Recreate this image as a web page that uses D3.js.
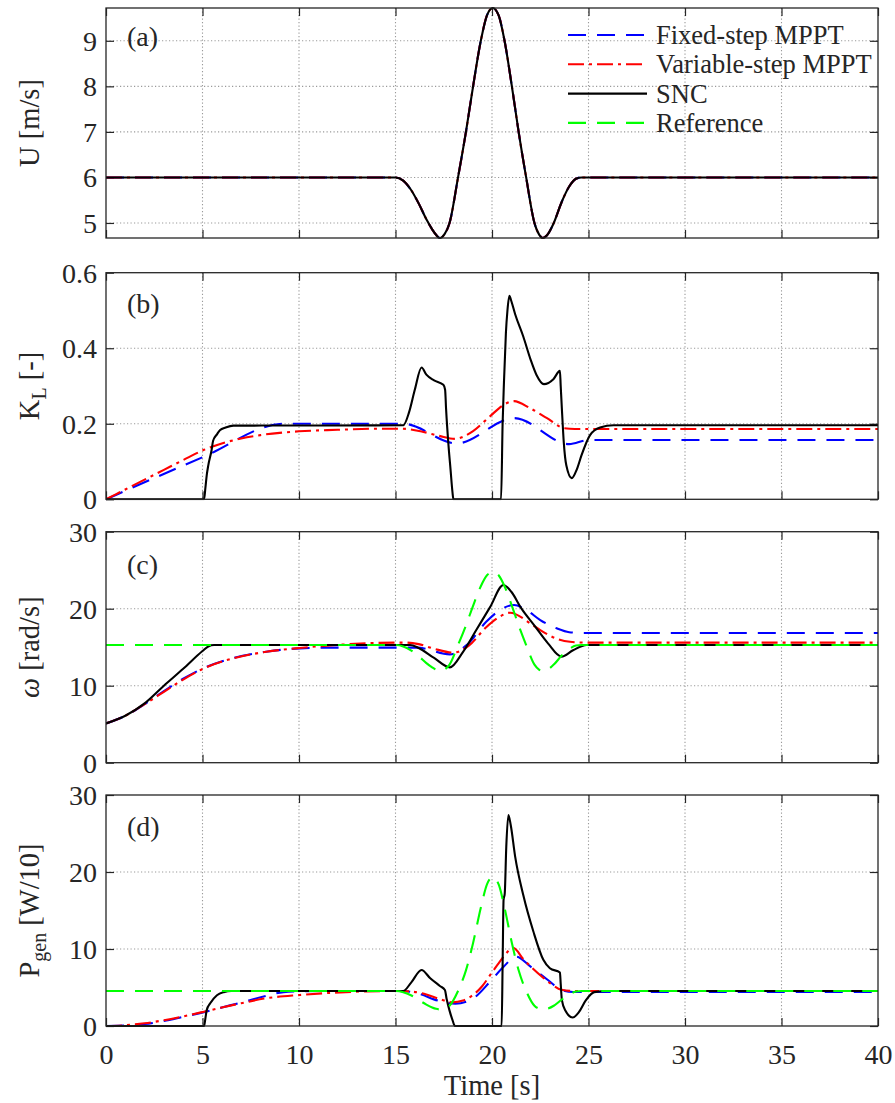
<!DOCTYPE html>
<html>
<head>
<meta charset="utf-8">
<script src="https://cdn.jsdelivr.net/npm/d3@7"></script>
<style>
  body { margin: 0; background: #ffffff; }
  svg text { font-family: "Liberation Serif", "Times New Roman", serif; fill: #262626; }
</style>
</head>
<body>
<svg id="chart" width="895" height="1103"></svg>
<script>
// ---- tick labels and legend names ----
const timeTicks  = [0, 5, 10, 15, 20, 25, 30, 35, 40];
const windTicks  = [5, 6, 7, 8, 9];
const klTicks    = [0, 0.2, 0.4, 0.6];
const omegaTicks = [0, 10, 20, 30];
const powerTicks = [0, 10, 20, 30];
const seriesNames = ["Fixed-step MPPT", "Variable-step MPPT", "SNC", "Reference"];

// ---- wind gust and the matching references [s] ----
const tWind = [0, 15.0, 15.4, 15.8, 16.2, 16.6, 16.9, 17.1, 17.3, 17.55, 17.8, 18.24, 18.65, 19.02, 19.42, 19.75, 20.04, 20.35, 20.65, 21.03, 21.38, 21.77, 22.2, 22.45, 22.63, 22.85, 23.2, 23.6, 24.0, 24.35, 24.65, 25.0, 40];
const windSpeed = [6, 6, 5.93, 5.73, 5.43, 5.08, 4.86, 4.74, 4.67, 4.76, 5.0, 6.0, 7.0, 8.0, 9.0, 9.57, 9.72, 9.55, 9.0, 8.0, 7.0, 6.0, 5.0, 4.74, 4.67, 4.73, 5.0, 5.45, 5.8, 5.97, 6.0, 6.0, 6.0];
const omegaRef = [15.28, 15.28, 15.10, 14.59, 13.83, 12.94, 12.38, 12.07, 11.89, 12.12, 12.74, 15.28, 17.83, 20.38, 22.92, 24.37, 24.76, 24.32, 22.92, 20.38, 17.83, 15.28, 12.74, 12.07, 11.89, 12.05, 12.74, 13.88, 14.77, 15.21, 15.28, 15.28, 15.28];
const powerRef = [4.55, 4.55, 4.39, 3.99, 3.38, 2.78, 2.41, 2.23, 2.15, 2.27, 2.63, 4.55, 7.23, 10.78, 15.36, 18.46, 19.34, 18.35, 15.36, 10.78, 7.23, 4.55, 2.63, 2.24, 2.15, 2.23, 2.63, 3.41, 4.11, 4.48, 4.55, 4.55, 4.55];

// ---- load gain K_L ----
const tKlFixed = [0, 5.08, 9.2, 15.4, 18.17, 21.15, 24.0, 25.0, 40];
const klFixed  = [0, 0.113, 0.200, 0.200, 0.148, 0.215, 0.146, 0.157, 0.157];
const tKlVar = [0, 1, 2, 3, 4, 5.08, 6, 7, 8, 9, 10, 12, 14, 15.3, 16.4, 17.27, 18.08, 19.0, 19.9, 20.6, 21.14, 21.98, 22.85, 23.75, 24.3, 40];
const klVar  = [0, 0.026, 0.052, 0.078, 0.104, 0.131, 0.148, 0.161, 0.170, 0.176, 0.180, 0.184, 0.187, 0.187, 0.179, 0.168, 0.160, 0.180, 0.220, 0.250, 0.260, 0.241, 0.215, 0.188, 0.186, 0.186];
const tKlSnc = [0, 5.08, 5.15, 5.22, 5.3, 5.47, 5.55, 5.75, 5.9, 6.2, 6.6, 15.4, 15.7, 16.0, 16.35, 16.6, 17.0, 17.48, 17.57, 17.62, 17.75, 17.85, 17.95, 18.0, 20.47, 20.55, 20.62, 20.72, 20.8, 20.9, 21.0, 21.2, 21.62, 22.0, 22.3, 22.69, 23.18, 23.52, 23.56, 23.62, 23.72, 23.85, 24.13, 24.4, 24.64, 25.08, 25.6, 26.3, 40];
const klSnc  = [0, 0, 0.03, 0.064, 0.09, 0.13, 0.155, 0.172, 0.183, 0.19, 0.195, 0.196, 0.23, 0.29, 0.349, 0.33, 0.315, 0.303, 0.29, 0.24, 0.14, 0.08, 0.02, 0, 0, 0.2, 0.31, 0.44, 0.50, 0.539, 0.525, 0.49, 0.431, 0.37, 0.33, 0.305, 0.318, 0.34, 0.30, 0.24, 0.15, 0.09, 0.056, 0.08, 0.117, 0.17, 0.19, 0.196, 0.196];

// ---- rotor speed [rad/s] ----
const tOmFixed = [0, 1, 2, 3, 4, 5.08, 6.6, 8.3, 10.05, 12, 16.1, 17.82, 18.7, 19.7, 20.4, 21.14, 21.8, 22.5, 23.35, 24.0, 24.8, 40];
const omFixed  = [5.1, 6.1, 7.6, 9.3, 10.9, 12.3, 13.6, 14.4, 14.85, 14.95, 14.95, 14.07, 15.3, 18.3, 19.8, 20.48, 19.8, 18.53, 17.45, 16.95, 16.85, 16.85];
const tOmVar = [0, 1, 2, 3, 4, 5.08, 6.6, 8.3, 10.05, 12, 14, 15.5, 16.2, 17.0, 18.0, 18.8, 19.7, 20.4, 20.93, 21.98, 22.5, 23.35, 24.04, 24.8, 40];
const omVar  = [5.1, 6.1, 7.6, 9.2, 10.8, 12.26, 13.56, 14.4, 14.9, 15.3, 15.55, 15.6, 15.4, 14.8, 14.29, 15.2, 17.6, 18.96, 19.48, 18.1, 17.23, 16.1, 15.7, 15.6, 15.6];
const tOmSnc = [0, 1, 2, 3, 4, 5, 5.3, 5.6, 15.75, 16.2, 17.0, 17.82, 18.5, 19.2, 19.9, 20.59, 21.0, 21.53, 22.2, 22.9, 23.6, 24.2, 24.9, 40];
const omSnc  = [5.1, 6.1, 7.7, 10.0, 12.2, 14.5, 15.1, 15.28, 15.28, 14.9, 13.6, 12.38, 14.4, 17.3, 20.2, 23.07, 22.2, 20.0, 17.8, 15.5, 13.77, 14.6, 15.28, 15.28];

// ---- generator power [W/10] ----
const tPFixed = [0, 1, 2, 3, 4, 5.08, 6, 7, 8.3, 9.2, 10.2, 12, 15.4, 16.2, 17.2, 18.1, 19.03, 19.9, 20.6, 21.25, 22.0, 22.83, 23.6, 24.2, 40];
const pFixed  = [0, 0.05, 0.25, 0.65, 1.2, 1.8, 2.4, 3.05, 3.9, 4.4, 4.5, 4.55, 4.55, 4.2, 3.3, 2.9, 3.6, 5.76, 7.7, 9.0, 7.7, 6.1, 4.7, 4.42, 4.42];
const tPVar = [0, 1, 2, 3, 4, 5.08, 6, 7, 8.3, 10.05, 11.8, 13.5, 15.2, 15.9, 16.6, 17.3, 17.95, 18.5, 19.0, 19.5, 19.9, 20.3, 20.6, 21.1, 21.62, 22.5, 23.1, 23.6, 24.2, 40];
const pVar  = [0, 0.1, 0.35, 0.75, 1.25, 1.86, 2.4, 2.95, 3.6, 4.03, 4.33, 4.5, 4.55, 4.45, 4.1, 3.5, 3.07, 3.3, 4.0, 5.2, 6.6, 8.0, 9.0, 10.15, 8.7, 6.6, 5.4, 4.7, 4.55, 4.55];
const tPSnc = [0, 5.08, 5.15, 5.22, 5.4, 5.75, 6.1, 6.5, 15.4, 15.8, 16.35, 16.8, 17.3, 17.56, 17.65, 17.8, 17.95, 18.08, 20.5, 20.55, 20.6, 20.66, 20.74, 20.85, 20.97, 21.2, 21.62, 22.14, 22.66, 23.0, 23.52, 23.56, 23.62, 23.8, 24.18, 24.5, 24.85, 25.3, 26.0, 40];
const pSnc  = [0, 0, 1.0, 2.08, 2.95, 4.0, 4.4, 4.55, 4.55, 5.6, 7.27, 6.2, 5.2, 4.68, 3.5, 2.0, 0.8, 0, 0, 8.0, 16.4, 17.2, 23.3, 27.4, 26.1, 22.0, 17.0, 12.3, 8.6, 7.5, 6.95, 5.5, 3.4, 2.0, 1.1, 1.8, 3.3, 4.4, 4.55, 4.55];

// ---- styles ----
const styles = {
  fixed: { color: "#0000ff", dash: "18,11" },
  vari:  { color: "#ff0000", dash: "16,5,3,5" },
  snc:   { color: "#000000", dash: null },
  ref:   { color: "#00ff00", dash: "18,11" }
};
const TICK_FONT = 28;
const TITLE_FONT = 28.5;
const LEGEND_FONT = 26.5;
const AXIS_COLOR = "#262626";

const svg = d3.select("#chart");
const plotLeft = 106, plotRight = 878;
const x = d3.scaleLinear().domain([0, 40]).range([plotLeft, plotRight]);

const zip = (ts, vs) => ts.map((t, i) => [t, vs[i]]);

const panels = [
  { id: "a", top: 8, bottom: 238, domain: [4.67, 9.72], ticks: windTicks, tag: "(a)", tagY: 46,
    series: [["fixed", tWind, windSpeed], ["vari", tWind, windSpeed], ["snc", tWind, windSpeed]] },
  { id: "b", top: 272.7, bottom: 499.3, domain: [0, 0.6], ticks: klTicks, tag: "(b)", tagY: 313,
    series: [["fixed", tKlFixed, klFixed], ["vari", tKlVar, klVar], ["snc", tKlSnc, klSnc]] },
  { id: "c", top: 531.7, bottom: 762.7, domain: [0, 30], ticks: omegaTicks, tag: "(c)", tagY: 574,
    series: [["fixed", tOmFixed, omFixed], ["vari", tOmVar, omVar], ["snc", tOmSnc, omSnc], ["ref", tWind, omegaRef]] },
  { id: "d", top: 795, bottom: 1026, domain: [0, 30], ticks: powerTicks, tag: "(d)", tagY: 836,
    series: [["fixed", tPFixed, pFixed], ["vari", tPVar, pVar], ["snc", tPSnc, pSnc], ["ref", tWind, powerRef]] }
];

const defs = svg.append("defs");

panels.forEach(p => {
  const y = d3.scaleLinear().domain(p.domain).range([p.bottom, p.top]);
  const g = svg.append("g").attr("class", "panel-" + p.id);

  defs.append("clipPath").attr("id", "clip-" + p.id)
    .append("rect").attr("x", plotLeft).attr("y", p.top - 1)
    .attr("width", plotRight - plotLeft).attr("height", p.bottom - p.top + 2);

  // dotted grid
  const grid = g.append("g").attr("stroke", "#9a9a9a").attr("stroke-width", 1.1)
    .attr("stroke-dasharray", "1.2,2.3");
  timeTicks.filter(t => t > 0 && t < 40).forEach(t => {
    grid.append("line").attr("x1", x(t)).attr("x2", x(t)).attr("y1", p.top).attr("y2", p.bottom);
  });
  p.ticks.filter(v => y(v) > p.top + 1 && y(v) < p.bottom - 1).forEach(v => {
    grid.append("line").attr("x1", plotLeft).attr("x2", plotRight).attr("y1", y(v)).attr("y2", y(v));
  });

  // axes with inward ticks on all four sides
  const styleAxis = sel => {
    sel.attr("font-family", null).attr("font-size", null);
    sel.select(".domain").remove();
    sel.selectAll(".tick line").attr("stroke", AXIS_COLOR).attr("stroke-width", 1.2);
    sel.selectAll(".tick text").attr("font-size", TICK_FONT).attr("fill", AXIS_COLOR);
  };
  g.append("g").attr("transform", `translate(${plotLeft},0)`)
    .call(d3.axisLeft(y).tickValues(p.ticks).tickSize(-8).tickPadding(9).tickFormat(d => String(d)))
    .call(styleAxis)
    .selectAll(".tick text").attr("dy", "0.34em");
  g.append("g").attr("transform", `translate(${plotRight},0)`)
    .call(d3.axisRight(y).tickValues(p.ticks).tickSize(-8).tickFormat(""))
    .call(styleAxis);
  g.append("g").attr("transform", `translate(0,${p.top})`)
    .call(d3.axisTop(x).tickValues(timeTicks).tickSize(-8).tickFormat(""))
    .call(styleAxis);
  const bottomAxis = d3.axisBottom(x).tickValues(timeTicks).tickSize(-8);
  if (p.id === "d") bottomAxis.tickPadding(18).tickFormat(d => String(d));
  else bottomAxis.tickFormat("");
  g.append("g").attr("transform", `translate(0,${p.bottom})`)
    .call(bottomAxis)
    .call(styleAxis);

  // data lines
  const line = d3.line().x(d => x(d[0])).y(d => y(d[1])).curve(d3.curveMonotoneX);
  const lines = g.append("g").attr("clip-path", `url(#clip-${p.id})`);
  p.series.forEach(([key, ts, vs]) => {
    const s = styles[key];
    lines.append("path")
      .datum(zip(ts, vs))
      .attr("d", line)
      .attr("fill", "none")
      .attr("stroke", s.color)
      .attr("stroke-width", 2.1)
      .attr("stroke-linejoin", "round")
      .attr("stroke-dasharray", s.dash);
  });

  // box
  g.append("rect").attr("x", plotLeft).attr("y", p.top)
    .attr("width", plotRight - plotLeft).attr("height", p.bottom - p.top)
    .attr("fill", "none").attr("stroke", AXIS_COLOR).attr("stroke-width", 1.3);

  // panel tag
  g.append("text").attr("x", 127).attr("y", p.tagY).attr("font-size", TICK_FONT).text(p.tag);
});

// ---- y-axis titles ----
function yTitle(cy, build) {
  const t = svg.append("text")
    .attr("transform", `translate(39,${cy}) rotate(-90)`)
    .attr("text-anchor", "middle")
    .attr("font-size", TITLE_FONT);
  build(t);
}
yTitle((8 + 238) / 2, t => t.text("U [m/s]"));
yTitle((272.7 + 499.3) / 2, t => {
  t.append("tspan").text("K");
  t.append("tspan").attr("font-size", 20).attr("dy", 7).text("L");
  t.append("tspan").attr("dy", -7).text(" [-]");
});
yTitle((531.7 + 762.7) / 2, t => {
  t.append("tspan").attr("font-style", "italic").text("ω");
  t.append("tspan").text(" [rad/s]");
});
yTitle((795 + 1026) / 2, t => {
  t.append("tspan").text("P");
  t.append("tspan").attr("font-size", 20).attr("dy", 7).text("gen");
  t.append("tspan").attr("dy", -7).text(" [W/10]");
});

// ---- x-axis title ----
svg.append("text").attr("x", (plotLeft + plotRight) / 2).attr("y", 1095)
  .attr("text-anchor", "middle").attr("font-size", TITLE_FONT).text("Time [s]");

// ---- legend (top panel) ----
const legend = svg.append("g").attr("class", "legend");
const legendKeys = ["fixed", "vari", "snc", "ref"];
legendKeys.forEach((k, i) => {
  const ly = 35 + i * 29.3;
  legend.append("line").attr("x1", 568).attr("x2", 647).attr("y1", ly).attr("y2", ly)
    .attr("stroke", styles[k].color).attr("stroke-width", 2.1)
    .attr("stroke-dasharray", styles[k].dash);
  legend.append("text").attr("x", 656).attr("y", ly + 9).attr("font-size", LEGEND_FONT).text(seriesNames[i]);
});
</script>
</body>
</html>
